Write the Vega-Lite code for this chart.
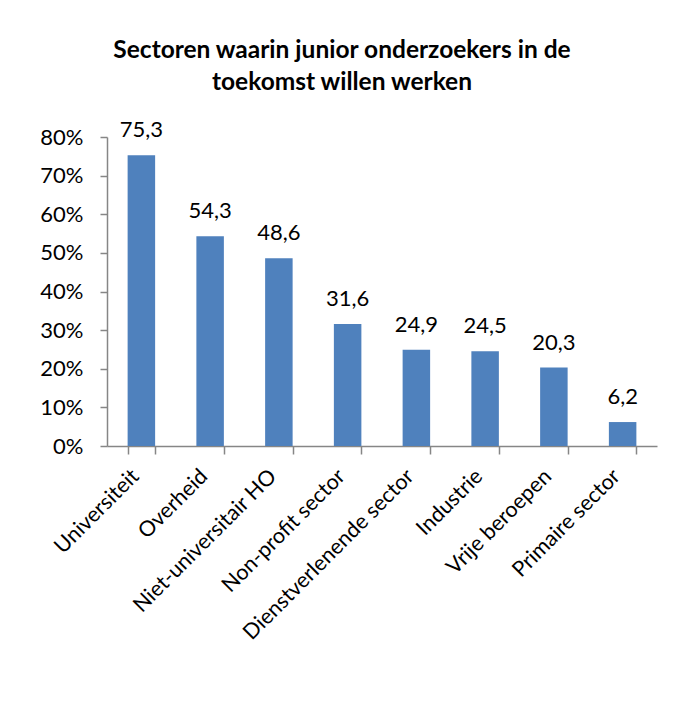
{
  "$schema": "https://vega.github.io/schema/vega-lite/v6.json",
  "width": 550,
  "height": 309,
  "autosize": {"type": "none"},
  "padding": {"left": 107, "top": 137, "right": 17, "bottom": 256},
  "background": "white",
  "config": {
    "locale": {"number": {"decimal": ",", "thousands": ".", "grouping": [3], "currency": ["€", ""]}},
    "font": "Lato",
    "view": {"stroke": null}
  },
  "title": {
    "text": ["Sectoren waarin junior onderzoekers in de", "toekomst willen werken"],
    "font": "Lato",
    "fontSize": 24.5,
    "fontWeight": "bold",
    "color": "black",
    "anchor": "middle",
    "frame": "group",
    "dx": -40,
    "offset": 24,
    "lineHeight": 32
  },
  "data": {
    "values": [
      {"sector": "Universiteit", "pct": 75.3},
      {"sector": "Overheid", "pct": 54.3},
      {"sector": "Niet-universitair HO", "pct": 48.6},
      {"sector": "Non-profit sector", "pct": 31.6},
      {"sector": "Dienstverlenende sector", "pct": 24.9},
      {"sector": "Industrie", "pct": 24.5},
      {"sector": "Vrije beroepen", "pct": 20.3},
      {"sector": "Primaire sector", "pct": 6.2}
    ]
  },
  "encoding": {
    "x": {
      "field": "sector",
      "type": "nominal",
      "sort": null,
      "scale": {"paddingInner": 0.6, "paddingOuter": 0.3},
      "axis": {
        "title": null,
        "labelAngle": -45,
        "labelAlign": "right",
        "labelBaseline": "middle",
        "labelFontSize": 21.5,
        "labelColor": "black",
        "labelPadding": 19,
        "labelOffset": -6,
        "labelFont": "Lato",
        "tickBand": "extent",
        "tickSize": 8,
        "tickColor": "#868686",
        "domainColor": "#868686",
        "domainWidth": 1.5,
        "tickWidth": 1.5,
        "labelLimit": 400
      }
    },
    "y": {
      "field": "pct",
      "type": "quantitative",
      "scale": {"domain": [0, 80], "nice": false},
      "axis": {
        "title": null,
        "values": [0, 10, 20, 30, 40, 50, 60, 70, 80],
        "labelExpr": "datum.value + '%'",
        "grid": false,
        "labelFontSize": 22,
        "labelColor": "black",
        "labelPadding": 17,
        "labelFont": "Lato",
        "tickSize": 7,
        "tickColor": "#868686",
        "domainColor": "#868686",
        "domainWidth": 1.5,
        "tickWidth": 1.5
      }
    }
  },
  "layer": [
    {"mark": {"type": "bar", "color": "#4F81BD"}},
    {
      "mark": {"type": "text", "baseline": "bottom", "dy": -13, "fontSize": 22, "color": "black", "font": "Lato"},
      "encoding": {"text": {"field": "pct", "type": "quantitative", "format": ".1f"}}
    }
  ]
}
